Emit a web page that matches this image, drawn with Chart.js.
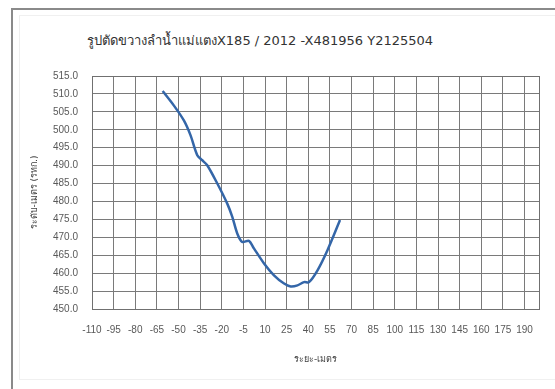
<!DOCTYPE html>
<html>
<head>
<meta charset="utf-8">
<script src="https://cdn.jsdelivr.net/npm/chart.js@4.4.1/dist/chart.umd.min.js"></script>
<style>
  html, body { margin: 0; padding: 0; background: #ffffff; }
  body { width: 555px; height: 389px; position: relative; overflow: hidden; }
  #frame { position: absolute; left: 11px; top: 8px; width: 544px; height: 381px;
           border-left: 2px solid #8a8a8a; border-top: 2px solid #8a8a8a; box-sizing: border-box; }
  #inner { position: absolute; left: 19px; top: 15px; right: 0; bottom: 9px;
           border-left: 1px solid #eeeeee; border-top: 1px solid #f0f0f0; border-bottom: 1px solid #f0f0f0; }
  #title { position: absolute; left: 60px; width: 400px; top: 30px; text-align: center;
           font-family: "DejaVu Sans", "Noto Sans", sans-serif; font-size: 13px; color: #333; white-space: nowrap; }
  #c { position: absolute; left: 0; top: 0; }
</style>
</head>
<body>
<div id="frame"></div>
<div id="inner"></div>
<div id="title">รูปตัดขวางลำน้ำแม่แตงX185 / 2012 -X481956 Y2125504</div>
<canvas id="c" width="555" height="389"></canvas>
<script>
const chartTitle = "รูปตัดขวางลำน้ำแม่แตงX185 / 2012 -X481956 Y2125504";
const xAxisTitle = "ระยะ-เมตร";
const yAxisTitle = "ระดับ-เมตร (รทก.)";
const distances = [-61, -53.3, -46.3, -41.7, -37, -33.6, -30.1, -23.1, -16.2, -12.7, -9.2, -5.8, -1.2, 2.3, 9.3, 16.2, 23.2, 27.8, 32.5, 37.1, 40.5, 46.4, 53.3, 62];
const levels =    [510.8, 506.8, 502.6, 498.5, 492.9, 491.5, 490.1, 485.0, 479.4, 475.7, 471.0, 468.7, 469.0, 466.9, 462.7, 459.4, 457.1, 456.3, 456.6, 457.5, 457.5, 460.8, 466.4, 474.8];
const xTickValues = [-110, -95, -80, -65, -50, -35, -20, -5, 10, 25, 40, 55, 70, 85, 100, 115, 130, 145, 160, 175, 190];
const yTickValues = [450, 455, 460, 465, 470, 475, 480, 485, 490, 495, 500, 505, 510, 515];
const xMin = -110, xMax = 200;
const yMin = 450, yMax = 515;

const points = distances.map((d, i) => ({ x: d, y: levels[i] }));

const frameBorder = {
  id: 'frameBorder',
  afterDraw(chart) {
    const a = chart.chartArea, ctx = chart.ctx;
    ctx.save();
    ctx.strokeStyle = '#707070';
    ctx.lineWidth = 1;
    ctx.strokeRect(Math.round(a.left) + 0.5, Math.round(a.top) + 0.5, Math.round(a.right - a.left), Math.round(a.bottom - a.top));
    ctx.restore();
  }
};

new Chart(document.getElementById('c'), {
  type: 'line',
  data: {
    datasets: [{
      data: points,
      borderColor: '#3466a8',
      borderWidth: 2.5,
      pointRadius: 0,
      tension: 0.3,
      fill: false
    }]
  },
  options: {
    responsive: false,
    animation: false,
    layout: { padding: { left: 14, right: 16, top: 76, bottom: 10 } },
    plugins: { legend: { display: false }, title: { display: false }, tooltip: { enabled: false } },
    scales: {
      x: {
        type: 'linear',
        min: xMin, max: xMax,
        afterFit(s) { s.height = 70; },
        afterBuildTicks(s) { s.ticks = xTickValues.map(v => ({ value: v })); },
        grid: { color: '#7a7a7a', drawTicks: false },
        border: { color: '#707070' },
        ticks: { padding: 15, maxRotation: 0, autoSkip: false,
                 color: '#595959', font: { family: 'Liberation Sans Narrow, Liberation Sans, sans-serif', size: 10 } },
        title: { display: true, text: xAxisTitle, color: '#404040', padding: { top: 0, bottom: 14 },
                 font: { family: 'DejaVu Sans, sans-serif', size: 9 } }
      },
      y: {
        min: yMin, max: yMax,
        afterFit(s) { s.width = 78; },
        afterBuildTicks(s) { s.ticks = yTickValues.map(v => ({ value: v })); },
        grid: { color: '#7a7a7a', drawTicks: false },
        border: { color: '#707070' },
        ticks: { padding: 14, color: '#595959',
                 callback: v => Number(v).toFixed(1),
                 font: { family: 'Liberation Sans Narrow, Liberation Sans, sans-serif', size: 10 } },
        title: { display: true, text: yAxisTitle, color: '#404040', padding: { top: 15, bottom: 0 },
                 font: { family: 'DejaVu Sans, sans-serif', size: 9 } }
      }
    }
  },
  plugins: [frameBorder]
});
</script>
</body>
</html>
